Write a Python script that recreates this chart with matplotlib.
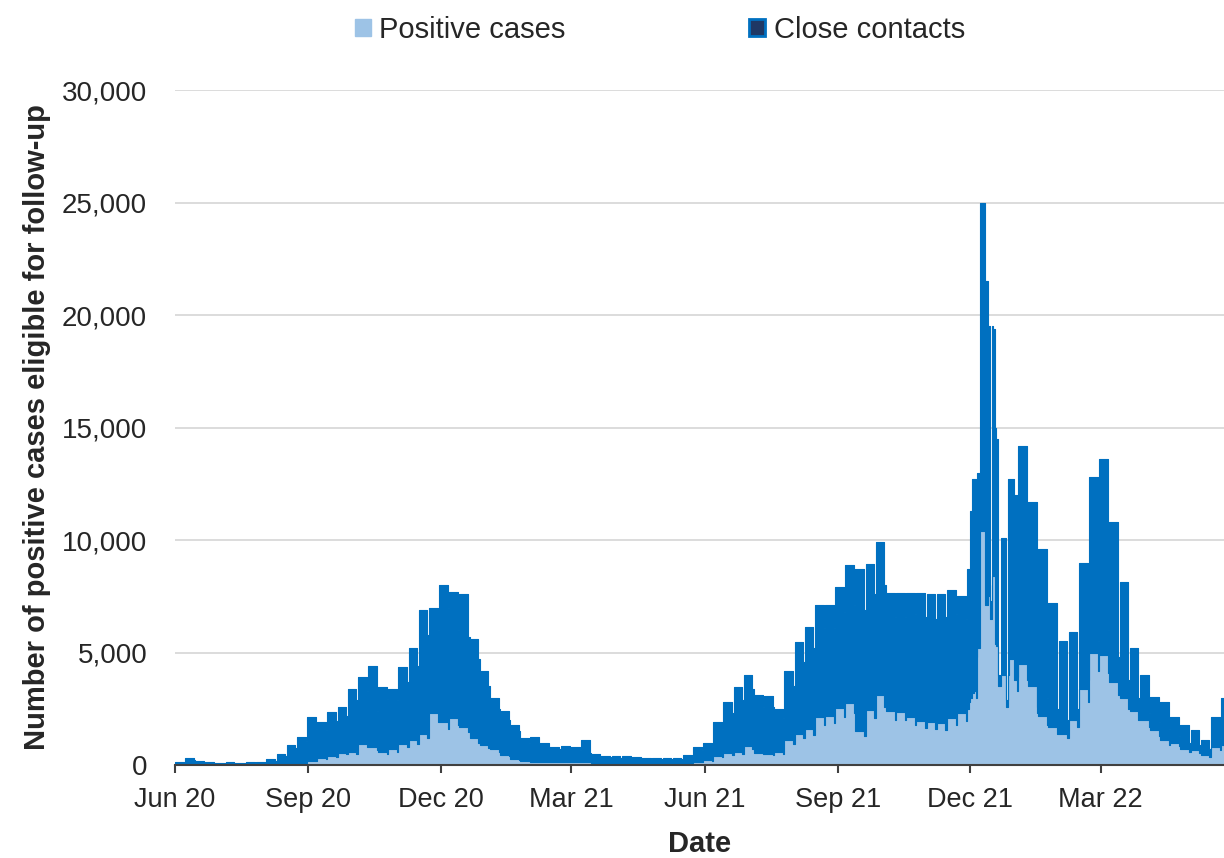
import numpy as np
import pandas as pd
import matplotlib
matplotlib.use('Agg')
import matplotlib.pyplot as plt
import matplotlib.dates as mdates
from matplotlib.patches import Patch
from matplotlib.ticker import FuncFormatter

# weekly readings, weeks starting 1 Jun 2020: usual level and the one-day dip
total_hi = [150, 300, 180, 120, 100, 150, 100, 150, 150, 250,
            500, 900, 1250, 2150, 1900, 2350, 2600, 3400, 3900, 4400,
            3450, 3400, 4350, 5200, 6900, 7000, 8000, 7700, 7600, 5600,
            4200, 2980, 2400, 1800, 1200, 1250, 970, 820, 860, 780,
            1100, 500, 420, 400, 400, 350, 320, 320, 300, 320,
            450, 780, 1000, 1900, 2800, 3450, 4000, 3100, 3050, 2500,
            4200, 5450, 6150, 7100, 7100, 7900, 8900, 8700, 8950, 9900,
            7650, 7650, 7650, 7650, 7600, 7600, 7800, 7500, 8700, 25000,
            19500, 10100, 12700, 14200, 11700, 9600, 7200, 5500, 5900, 9000,
            12800, 13600, 10800, 8150, 5200, 4000, 3040, 2800, 2150, 1780,
            1560, 1110, 2150, 3000]
total_lo = [100, 220, 140, 90, 70, 100, 70, 100, 100, 180,
            400, 750, 1050, 1600, 1550, 1950, 2200, 2900, 3300, 2400,
            2950, 2900, 3700, 4400, 5800, 6000, 7000, 6000, 5700, 4700,
            3500, 2500, 2000, 1500, 1000, 1000, 800, 700, 700, 650,
            550, 400, 350, 330, 330, 300, 270, 270, 250, 270,
            380, 650, 850, 1600, 2300, 2900, 3400, 2600, 2600, 2100,
            3500, 4600, 5200, 6100, 6100, 6800, 7100, 6900, 7600, 8000,
            6600, 6600, 6700, 6600, 6500, 6600, 6700, 6500, 7000, 21500,
            7300, 2900, 3900, 4500, 2600, 3000, 2500, 2000, 2500, 3800,
            5500, 6000, 4800, 3800, 3000, 2300, 1900, 1600, 1300, 1000,
            900, 700, 1200, 1800]
pos_hi = [20, 20, 15, 10, 10, 10, 10, 10, 15, 20,
          30, 50, 100, 200, 300, 400, 550, 600, 950, 800,
          600, 700, 950, 1100, 1400, 2300, 1900, 2100, 1700, 1200,
          900, 700, 450, 250, 200, 150, 150, 150, 150, 150,
          150, 100, 100, 100, 100, 80, 80, 80, 80, 80,
          100, 150, 220, 400, 520, 600, 850, 550, 500, 600,
          1100, 1400, 1600, 2150, 2200, 2550, 2750, 1500, 2450, 3100,
          2400, 2350, 2150, 1950, 1900, 1850, 2100, 2300, 3000, 10400,
          8000, 4000, 4700, 4500, 3500, 2200, 1700, 1400, 2000, 3400,
          5000, 4900, 3700, 3000, 2400, 2000, 1550, 1100, 1000, 700,
          650, 440, 800, 900]
pos_lo = [15, 15, 10, 8, 8, 8, 8, 8, 12, 15,
          25, 40, 80, 170, 250, 340, 470, 510, 800, 680,
          510, 600, 800, 950, 1200, 1900, 1600, 1800, 1450, 1000,
          770, 600, 380, 210, 170, 130, 130, 130, 130, 130,
          130, 85, 85, 85, 85, 70, 70, 70, 70, 70,
          85, 130, 190, 340, 440, 510, 720, 470, 430, 510,
          930, 1200, 1350, 1800, 1850, 2150, 2300, 1300, 2100, 2600,
          2000, 2000, 1800, 1650, 1600, 1550, 1800, 1950, 2200, 7100,
          6500, 2600, 3300, 3800, 2300, 1800, 1400, 1200, 1700, 2800,
          4200, 4100, 3100, 2500, 2000, 1700, 1300, 900, 850, 600,
          550, 370, 680, 760]

# daily readings around the Dec 2021 peak (29 Nov 2021 - 2 Jan 2022)
peak_start = '2021-11-29'
peak_total = [8700, 8700, 11300, 12700, 12700, 12700, 4800,
              13000, 13000, 25000, 25000, 25000, 21500, 21500,
              19500, 19500, 7300, 19500, 19400, 15000, 14500,
              4000, 4000, 10100, 10100, 10100, 10100, 2900,
              12700, 12700, 12700, 12700, 12000, 12000, 3900]
peak_pos = [2500, 2800, 3000, 3200, 3200, 3300, 3000,
            5200, 5200, 10400, 10400, 10400, 7100, 7100,
            7500, 8000, 6500, 8400, 8400, 5400, 5300,
            3500, 3500, 4000, 4000, 4000, 4000, 2600,
            4000, 4700, 4700, 4700, 3800, 3800, 3300]

tick_dates = ['2020-06-01', '2020-09-01', '2020-12-01', '2021-03-01',
              '2021-06-01', '2021-09-01', '2021-12-01', '2022-03-01']

start = pd.Timestamp('2020-06-01')
end = pd.Timestamp('2022-05-25')

weeks = pd.date_range(start, periods=len(total_hi), freq='7D')
rows = []
for i, wk in enumerate(weeks):
    rows.append((wk, total_hi[i], pos_hi[i]))
    rows.append((wk + pd.Timedelta(days=6), total_lo[i], pos_lo[i]))
df = pd.DataFrame(rows, columns=['date', 'total', 'pos']).set_index('date')
pdays = pd.date_range(peak_start, periods=len(peak_total), freq='D')
df = df[(df.index < pdays[0]) | (df.index > pdays[-1])]
peak = pd.DataFrame({'total': peak_total, 'pos': peak_pos}, index=pdays)
df = pd.concat([df, peak]).sort_index()

light = '#9DC3E6'
dark = '#0070C0'
txt = '#262626'

plt.rcParams['font.family'] = ['Liberation Sans', 'DejaVu Sans']
fig = plt.figure(figsize=(12.24, 8.58), dpi=100)
ax = fig.add_axes([175/1224, 93/858, 1 - 175/1224, 675/858])

x = df.index
ax.fill_between(x, 0, df['pos'], step='post', color=light, lw=0.8, edgecolor=light, zorder=2)
ax.fill_between(x, df['pos'], df['total'], step='post', color=dark, lw=0.8, edgecolor=dark, zorder=2)

ax.set_xlim(start, end)
ax.set_ylim(0, 30000)
ax.set_yticks(range(0, 30001, 5000))
ax.yaxis.set_major_formatter(FuncFormatter(lambda v, p: f'{int(v):,}'))
ax.yaxis.grid(True, color='#D9D9D9', lw=1.3)
ax.set_axisbelow(True)

ax.set_xticks([pd.Timestamp(d) for d in tick_dates])
ax.xaxis.set_major_formatter(mdates.DateFormatter('%b %y'))

for s in ['top', 'right', 'left']:
    ax.spines[s].set_visible(False)
ax.spines['bottom'].set_color('#404040')
ax.spines['bottom'].set_linewidth(1.5)
ax.spines['bottom'].set_zorder(3)
ax.tick_params(axis='y', length=0, pad=20, labelsize=20, labelcolor=txt)
ax.tick_params(axis='x', length=6, width=1.5, color='#404040', pad=10, labelsize=19.5, labelcolor=txt)

ax.set_xlabel('Date', fontsize=21, fontweight='bold', labelpad=12, color=txt)
ax.set_ylabel('Number of positive cases eligible for follow-up', fontsize=21,
              fontweight='bold', labelpad=8, color=txt)

handles = [Patch(facecolor=light, edgecolor=light),
           Patch(facecolor='#1F3864', edgecolor=dark, linewidth=2)]
fig.legend(handles, ['Positive cases', 'Close contacts'], loc='center',
           bbox_to_anchor=(660/1224, 1 - 30/858), ncol=2, frameon=False,
           fontsize=21, handlelength=0.55, handleheight=0.55,
           handletextpad=0.3, columnspacing=6.3, labelcolor=txt)

fig.savefig('out.png', dpi=100)
